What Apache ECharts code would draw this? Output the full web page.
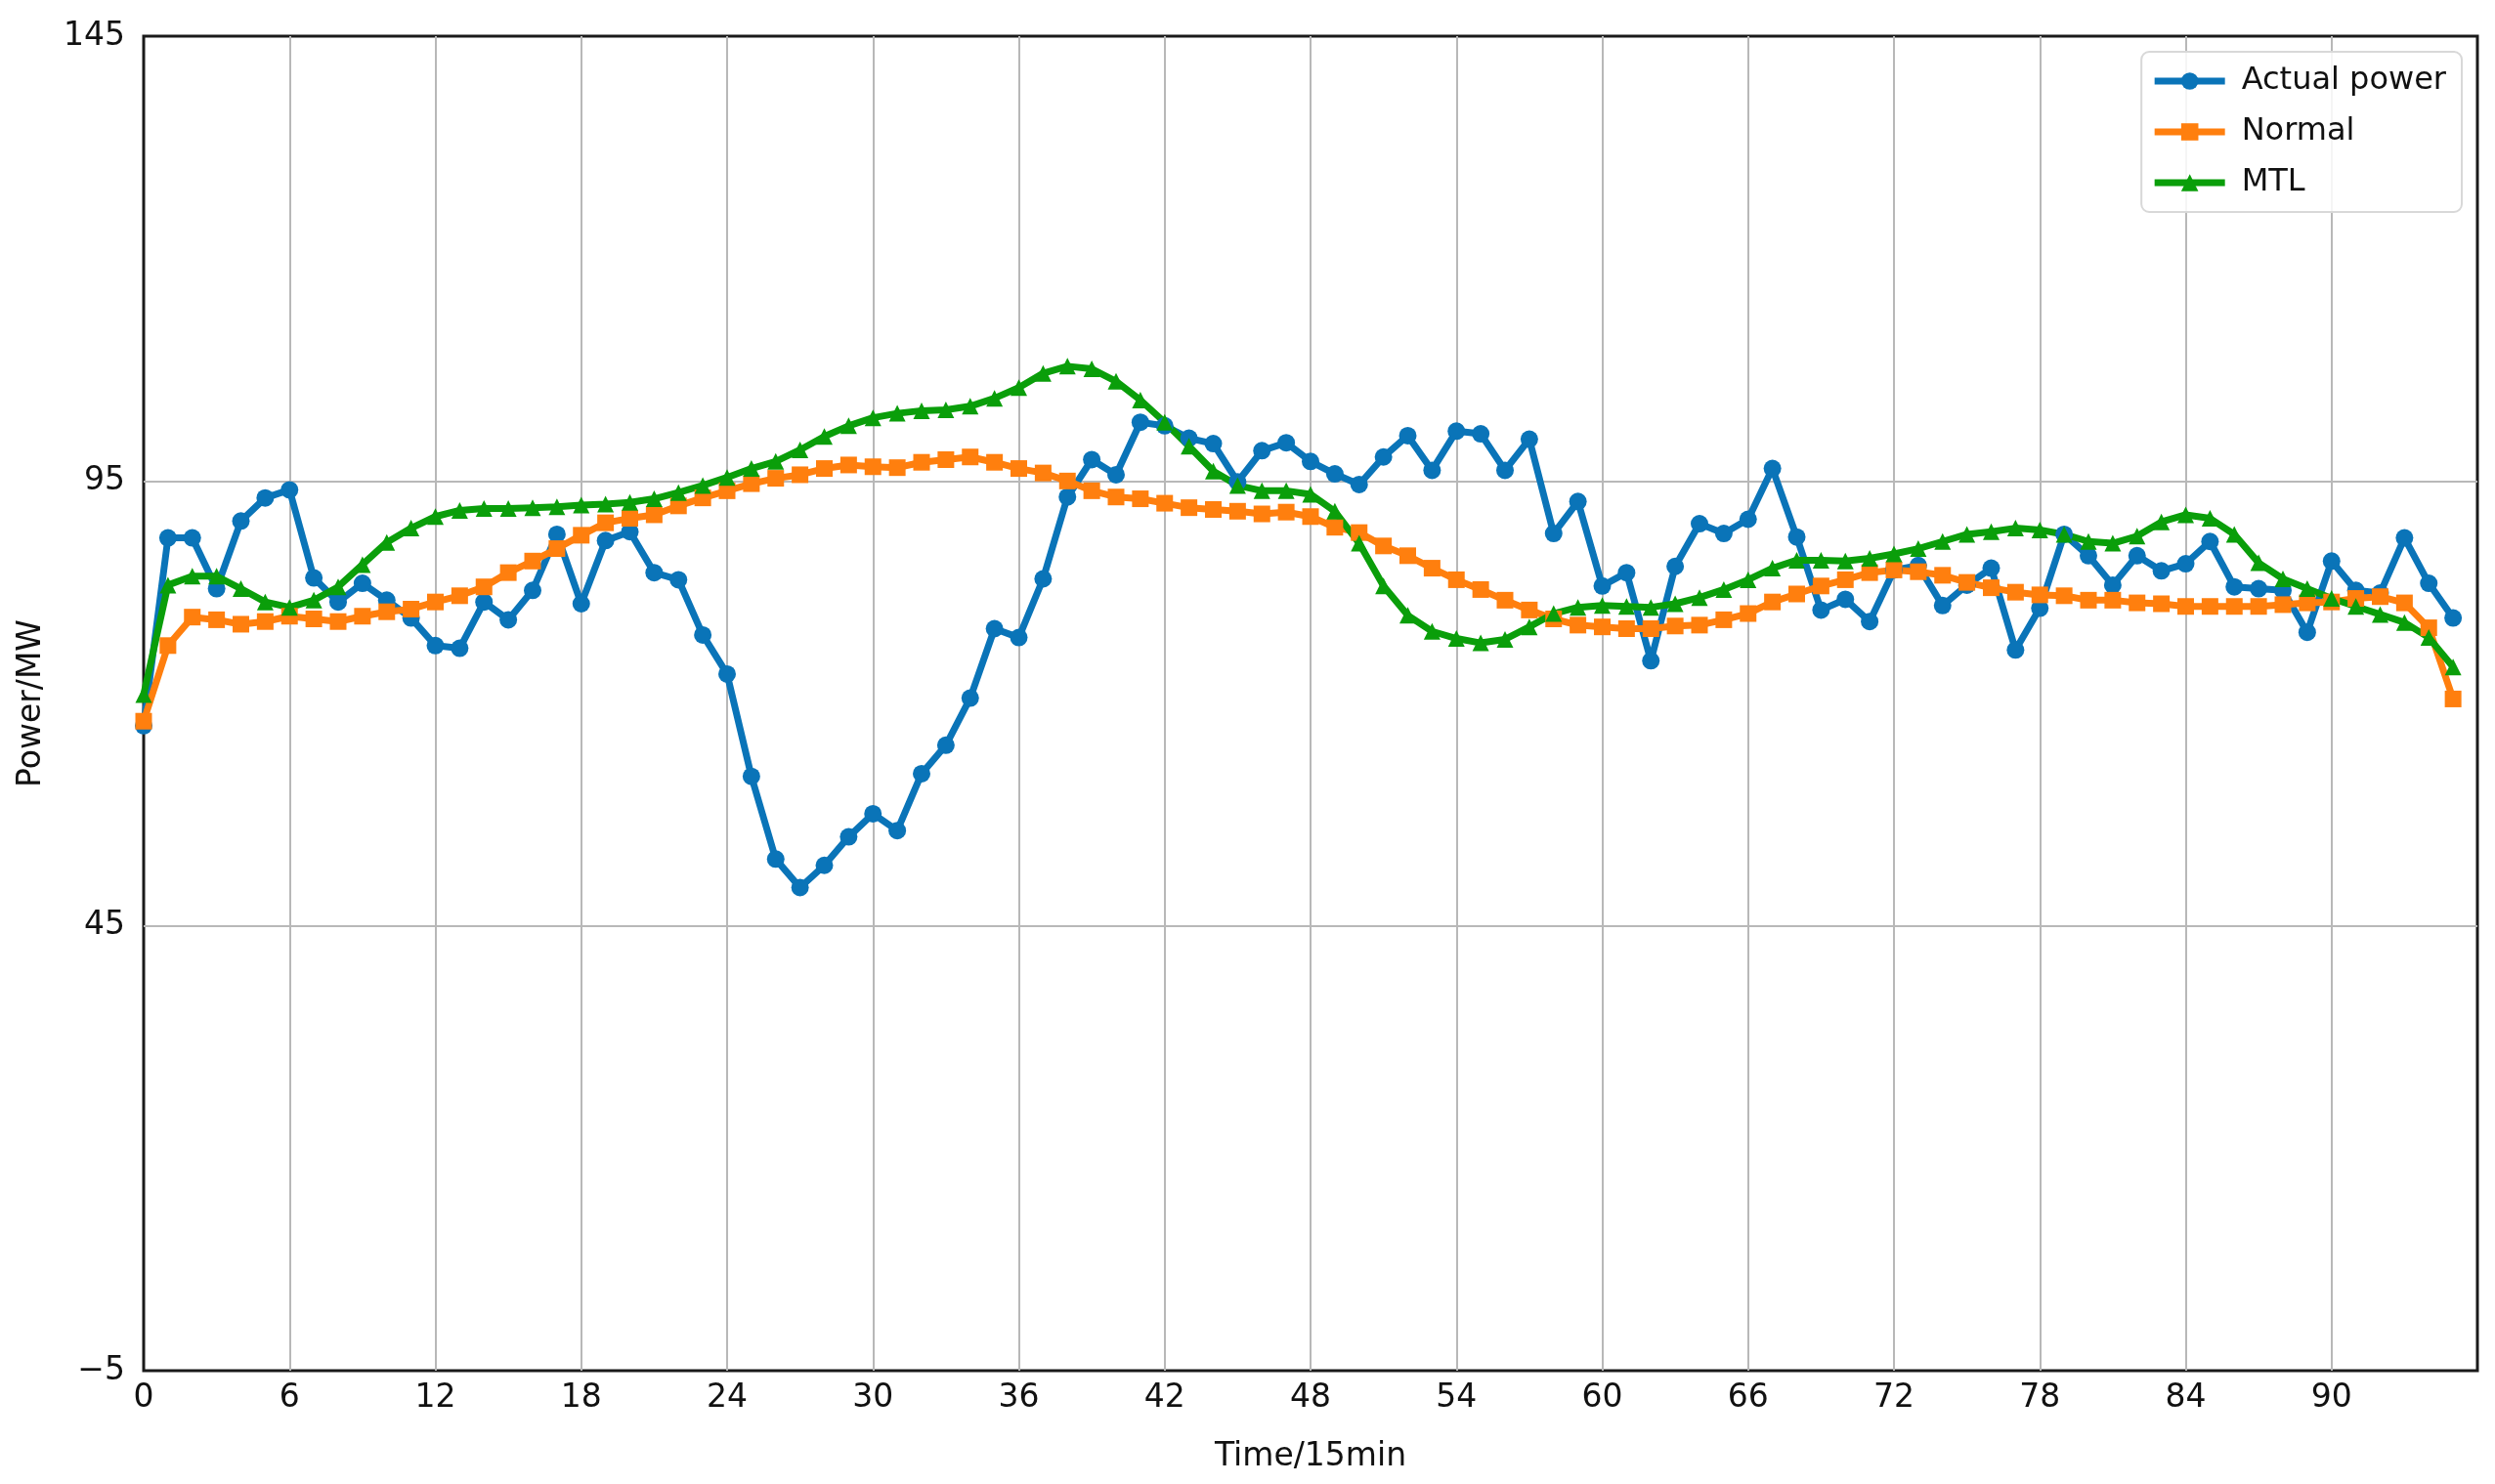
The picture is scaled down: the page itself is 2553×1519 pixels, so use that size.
<!DOCTYPE html>
<html>
<head>
<meta charset="utf-8">
<script src="https://cdn.jsdelivr.net/npm/echarts@6/dist/echarts.min.js"></script>
<style>
html,body{margin:0;padding:0;background:#fff;}
#chart{width:2553px;height:1519px;}
</style>
</head>
<body>
<div id="chart"></div>
<script>
const seriesNames = ['Actual power', 'Normal', 'MTL'];
const yTicks = [-5, 45, 95, 145];
const xTickStep = 6;

const actualPower = [
  67.5, 88.6, 88.6, 82.9, 90.5, 93.1, 94.0, 84.1, 81.4, 83.5,
  81.6, 79.6, 76.5, 76.2, 81.4, 79.4, 82.7, 89.0, 81.2, 88.3,
  89.3, 84.7, 83.9, 77.7, 73.3, 61.8, 52.5, 49.3, 51.8, 55.0,
  57.6, 55.7, 62.1, 65.3, 70.6, 78.4, 77.4, 84.0, 93.2, 97.4,
  95.7, 101.6, 101.2, 99.8, 99.2, 94.9, 98.4, 99.3, 97.2, 95.8,
  94.6, 97.7, 100.1, 96.2, 100.6, 100.3, 96.2, 99.7, 89.1, 92.7,
  83.2, 84.7, 74.8, 85.4, 90.2, 89.1, 90.7, 96.4, 88.7, 80.5,
  81.7, 79.2, 85.0, 85.5, 81.0, 83.3, 85.2, 76.0, 80.7, 89.0,
  86.6, 83.3, 86.6, 84.9, 85.7, 88.2, 83.1, 82.9, 82.7, 78.0,
  86.0, 82.7, 82.4, 88.6, 83.5, 79.6
];

const normalPred = [
  68.0, 76.5, 79.7, 79.4, 78.9, 79.2, 79.8, 79.5, 79.2, 79.8,
  80.3, 80.6, 81.4, 82.1, 83.1, 84.7, 86.0, 87.4, 88.9, 90.3,
  90.8, 91.2, 92.2, 93.1, 93.9, 94.7, 95.3, 95.7, 96.4, 96.8,
  96.6, 96.5, 97.1, 97.4, 97.7, 97.1, 96.4, 95.9, 95.0, 93.9,
  93.2, 93.0, 92.5, 92.0, 91.8, 91.6, 91.3, 91.5, 91.0, 89.8,
  89.2, 87.7, 86.6, 85.2, 83.9, 82.8, 81.6, 80.5, 79.5, 78.8,
  78.6, 78.4, 78.4, 78.7, 78.8, 79.4, 80.1, 81.4, 82.3, 83.2,
  83.9, 84.7, 85.0, 84.8, 84.4, 83.6, 83.0, 82.5, 82.2, 82.1,
  81.6, 81.6, 81.3, 81.2, 80.9, 80.9, 80.9, 80.9, 81.1, 81.3,
  81.4, 81.8, 82.0, 81.3, 78.5, 70.5
];

const mtlPred = [
  71.0, 83.3, 84.3, 84.3, 82.9, 81.4, 80.8, 81.6, 83.1, 85.6,
  88.1, 89.7, 91.0, 91.7, 91.9, 91.9, 92.0, 92.1, 92.3, 92.4,
  92.6, 93.0, 93.7, 94.5, 95.4, 96.4, 97.2, 98.5, 100.0, 101.2,
  102.1, 102.6, 102.9, 103.0, 103.4, 104.3, 105.5, 107.1, 107.9, 107.6,
  106.2, 104.1, 101.6, 98.9, 96.1, 94.5, 93.9, 93.9, 93.5, 91.6,
  88.0, 83.2, 79.9, 78.1, 77.3, 76.8, 77.2, 78.6, 80.1, 80.8,
  81.0, 80.9, 80.8, 81.2, 81.9, 82.8, 83.9, 85.2, 86.1, 86.1,
  86.0, 86.3, 86.8, 87.4, 88.2, 89.0, 89.3, 89.7, 89.5, 89.0,
  88.2, 88.0, 88.8, 90.4, 91.2, 90.8, 89.0, 85.8, 84.0, 82.9,
  81.8, 80.9, 80.0, 79.1, 77.4, 74.1
];

const toPairs = arr => arr.map((v, i) => [i, v]);
const font = 'DejaVu Sans';

const chart = echarts.init(document.getElementById('chart'), null, {renderer: 'canvas'});
const mk = (name, data, color, symbol, size) => ({
  name, type: 'line', data: toPairs(data),
  symbol, symbolSize: size, showAllSymbol: true,
  lineStyle: {color, width: 7},
  itemStyle: {color, borderWidth: 0},
  emphasis: {disabled: true}
});

chart.setOption({
  animation: false,
  backgroundColor: '#ffffff',
  textStyle: {fontFamily: font},
  grid: {
    left: 147, right: 18, top: 37, bottom: 116,
    show: true, borderColor: '#1a1a1a', borderWidth: 3, backgroundColor: 'transparent'
  },
  legend: {
    orient: 'vertical', right: 34, top: 53,
    data: seriesNames,
    itemWidth: 72, itemHeight: 22, itemGap: 20,
    padding: [14, 16, 14, 10],
    borderColor: '#d8d8d8', borderWidth: 2, borderRadius: 8,
    backgroundColor: 'rgba(255,255,255,0.85)',
    lineStyle: {width: 7},
    textStyle: {fontFamily: font, fontSize: 32, color: '#111', padding: [0, 0, 0, 12]}
  },
  xAxis: {
    type: 'value', min: 0, max: 96, interval: xTickStep,
    name: 'Time/15min', nameLocation: 'middle', nameGap: 72,
    nameTextStyle: {fontFamily: font, fontSize: 33, color: '#111'},
    axisLine: {show: false}, axisTick: {show: false},
    axisLabel: {fontFamily: font, fontSize: 33, color: '#111', margin: 12, showMaxLabel: false},
    splitLine: {show: true, showMinLine: false, showMaxLine: false, lineStyle: {color: '#b8b8b8', width: 2}}
  },
  yAxis: {
    type: 'value', min: yTicks[0], max: yTicks[yTicks.length - 1], interval: yTicks[1] - yTicks[0],
    name: 'Power/MW', nameLocation: 'middle', nameGap: 98, nameRotate: 90,
    nameTextStyle: {fontFamily: font, fontSize: 33, color: '#111'},
    axisLine: {show: false}, axisTick: {show: false},
    axisLabel: {fontFamily: font, fontSize: 33, color: '#111', margin: 19,
      formatter: v => (v < 0 ? '\u2212' + Math.abs(v) : String(v))},
    splitLine: {show: true, showMinLine: false, showMaxLine: false, lineStyle: {color: '#b8b8b8', width: 2}}
  },
  series: [
    mk(seriesNames[0], actualPower, '#0A74B8', 'circle', 18),
    mk(seriesNames[1], normalPred, '#FF7F0E', 'rect', 17),
    mk(seriesNames[2], mtlPred, '#0A9E0A', 'triangle', 17)
  ]
});
</script>
</body>
</html>
